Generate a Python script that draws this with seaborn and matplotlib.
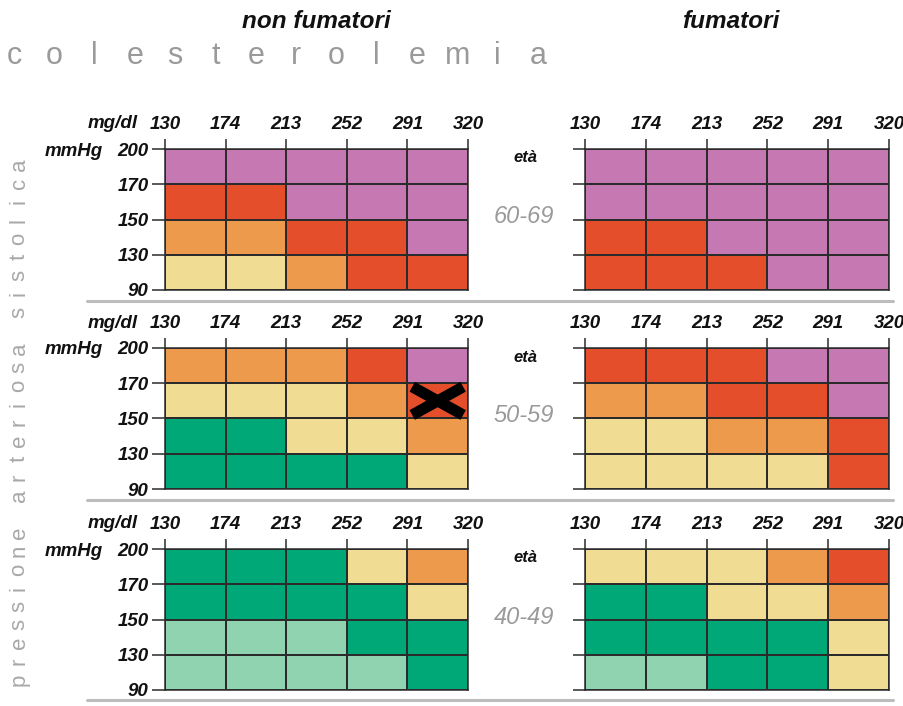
import numpy as np
import pandas as pd
import matplotlib
matplotlib.use("Agg")
import matplotlib.pyplot as plt
from matplotlib.colors import ListedColormap
from matplotlib.lines import Line2D
import seaborn as sns

# ---------------- data ----------------
chol_ticks = ["130", "174", "213", "252", "291", "320"]
bp_ticks = ["200", "170", "150", "130", "90"]
age_groups = ["60-69", "50-59", "40-49"]
smoker_titles = ["non fumatori", "fumatori"]

# risk level per cell: 0 light green, 1 green, 2 yellow, 3 orange, 4 red, 5 purple
# rows: 200-170, 170-150, 150-130, 130-90 ; cols: cholesterol classes
non_6069 = [[5, 5, 5, 5, 5],
            [4, 4, 5, 5, 5],
            [3, 3, 4, 4, 5],
            [2, 2, 3, 4, 4]]
fum_6069 = [[5, 5, 5, 5, 5],
            [5, 5, 5, 5, 5],
            [4, 4, 5, 5, 5],
            [4, 4, 4, 5, 5]]
non_5059 = [[3, 3, 3, 4, 5],
            [2, 2, 2, 3, 4],
            [1, 1, 2, 2, 3],
            [1, 1, 1, 1, 2]]
fum_5059 = [[4, 4, 4, 5, 5],
            [3, 3, 4, 4, 5],
            [2, 2, 3, 3, 4],
            [2, 2, 2, 2, 4]]
non_4049 = [[1, 1, 1, 2, 3],
            [1, 1, 1, 1, 2],
            [0, 0, 0, 1, 1],
            [0, 0, 0, 0, 1]]
fum_4049 = [[2, 2, 2, 3, 4],
            [1, 1, 2, 2, 3],
            [1, 1, 1, 1, 2],
            [0, 0, 1, 1, 2]]

panels = [[non_6069, fum_6069],
          [non_5059, fum_5059],
          [non_4049, fum_4049]]

risk_colors = ["#8fd3b1", "#00a878", "#f0dc92", "#ee9a4c", "#e44e2b", "#c578b1"]

# marked cell (X): age row 1 (50-59), non smokers, row 1, col 4
marker_panel = (1, 0)
marker_cell = (1, 4)

title_main = "colesterolemia"
title_side = "pressione arteriosa sistolica"

# ---------------- style ----------------
sns.set_style("white")
plt.rcParams["font.family"] = ["Liberation Sans", "DejaVu Sans"]

W, H = 904, 706
fig = plt.figure(figsize=(W / 100, H / 100), dpi=100)
fig.patch.set_facecolor("white")

cmap = ListedColormap(risk_colors)
grid_col = "#2b2b2b"

left_px = [165, 585]
right_px = [468, 889]
top_px = [149, 348, 549]
bot_px = [290, 489, 690]


def fx(px):
    return px / W


def fy(py):
    return 1 - py / H


for r in range(3):
    for c in range(2):
        ax = fig.add_axes([fx(left_px[c]), fy(bot_px[r]),
                           fx(right_px[c] - left_px[c]),
                           (bot_px[r] - top_px[r]) / H])
        df = pd.DataFrame(panels[r][c])
        sns.heatmap(df, ax=ax, cmap=cmap, vmin=-0.5, vmax=5.5, cbar=False,
                    linewidths=1.1, linecolor=grid_col,
                    xticklabels=False, yticklabels=False)
        for s in ax.spines.values():
            s.set_visible(True)
            s.set_color(grid_col)
            s.set_linewidth(1.1)
        ax.set_xticks(range(len(chol_ticks)))
        ax.set_xticklabels(chol_ticks, fontsize=13.5, fontweight="bold",
                           fontstyle="italic")
        ax.xaxis.tick_top()
        ax.tick_params(axis="x", top=True, bottom=False, labeltop=True,
                       labelbottom=False, length=7.5, width=1.1,
                       color=grid_col, pad=4, labelcolor="#111111")
        ax.set_yticks(range(len(bp_ticks)))
        if c == 0:
            ax.set_yticklabels(bp_ticks, fontsize=13.5, fontweight="bold",
                               fontstyle="italic")
            ax.tick_params(axis="y", left=True, length=9.5, width=1.1,
                           color=grid_col, pad=2.5, labelcolor="#111111")
        else:
            ax.set_yticklabels([])
            ax.tick_params(axis="y", left=True, length=9, width=1.1,
                           color=grid_col, pad=2)
        ax.set_xlabel("")
        ax.set_ylabel("")
        ax.set_xlim(0, 5)
        ax.set_ylim(4, 0)

        if (r, c) == marker_panel:
            mr, mc = marker_cell
            ax.plot([mc + 0.08, mc + 0.92], [mr + 0.1, mr + 0.9],
                    color="black", lw=8, solid_capstyle="butt", zorder=5)
            ax.plot([mc + 0.08, mc + 0.92], [mr + 0.9, mr + 0.1],
                    color="black", lw=8, solid_capstyle="butt", zorder=5)

    # left labels
    yl = top_px[r] - 25
    fig.text(fx(138), fy(yl), "mg/dl", ha="right", va="center", fontsize=13.5,
             fontweight="bold", fontstyle="italic", color="#111111")
    fig.text(fx(103), fy(top_px[r] + 2), "mmHg", ha="right", va="center",
             fontsize=13.5, fontweight="bold", fontstyle="italic", color="#111111")
    # età + age group
    fig.text(fx(525), fy(top_px[r] + 9), "età", ha="center", va="center",
             fontsize=12, fontweight="bold", fontstyle="italic", color="#111111")
    fig.text(fx(524), fy(top_px[r] + 68), age_groups[r], ha="center",
             va="center", fontsize=17, fontstyle="italic", color="#9a9a9a")

# separators
for yp in [301, 500, 700]:
    fig.add_artist(Line2D([fx(87), fx(893)], [fy(yp), fy(yp)],
                          color="#bdbdbd", lw=2.2))

# titles
fig.text(fx(316), fy(21), smoker_titles[0], ha="center", va="center",
         fontsize=17.5, fontweight="bold", fontstyle="italic", color="#111111")
fig.text(fx(731), fy(21), smoker_titles[1], ha="center", va="center",
         fontsize=17.5, fontweight="bold", fontstyle="italic", color="#111111")

# spaced "colesterolemia"
x0, pitch = 14, 40.3
for i, ch in enumerate(title_main):
    fig.text(fx(x0 + i * pitch), fy(56), ch, ha="center", va="center",
             fontsize=22, color="#9a9a9a")

# vertical spaced "pressione arteriosa sistolica"
y0, vpitch = 680, (680 - 165) / (len(title_side) - 1)
for i, ch in enumerate(title_side):
    if ch == " ":
        continue
    fig.text(fx(19), fy(y0 - i * vpitch), ch, ha="center", va="center",
             rotation=90, fontsize=16, color="#a8a8a8")

fig.savefig("out.png", dpi=100, facecolor="white")
